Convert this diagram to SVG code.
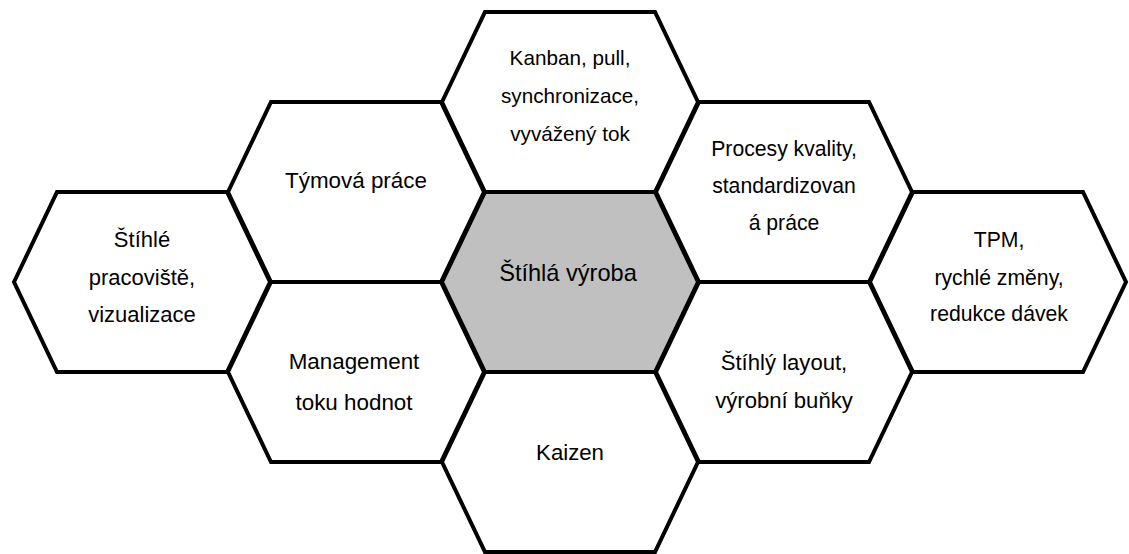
<svg xmlns="http://www.w3.org/2000/svg" xmlns:xlink="http://www.w3.org/1999/xlink" width="1129" height="554" viewBox="0 0 1129 554">
  <style>
    .hex { fill: #ffffff; stroke: #000000; stroke-width: 4; stroke-linejoin: miter; }
    .hex.core { fill: #c0c0c0; }
    text { font-family: "Liberation Sans", Arial, sans-serif; fill: #000000; text-anchor: middle; }
  </style>
  <defs>
    <path id="hexShape" d="M-128,0 L-85,-90 L85,-90 L128,0 L85,90 L-85,90 Z"/>
  </defs>
  <rect width="1129" height="554" fill="#ffffff"/>
  <g id="connectors"/>
  <g id="node-kanban">
    <use href="#hexShape" xlink:href="#hexShape" class="hex" x="570" y="102"/>
    <text x="570" y="65" font-size="20.7">Kanban, pull,</text>
    <text x="570" y="103" font-size="20.7">synchronizace,</text>
    <text x="570" y="141" font-size="20.7">vyvážený tok</text>
  </g>
  <g id="node-tymova">
    <use href="#hexShape" xlink:href="#hexShape" class="hex" x="356" y="192"/>
    <text x="356" y="188" font-size="22.4">Týmová práce</text>
  </g>
  <g id="node-procesy">
    <use href="#hexShape" xlink:href="#hexShape" class="hex" x="784" y="192"/>
    <text x="784" y="156" font-size="21.2">Procesy kvality,</text>
    <text x="784" y="193" font-size="21.2">standardizovan</text>
    <text x="784" y="230" font-size="21.2">á práce</text>
  </g>
  <g id="node-pracoviste">
    <use href="#hexShape" xlink:href="#hexShape" class="hex" x="142" y="282"/>
    <text x="142" y="247" font-size="22">Štíhlé</text>
    <text x="142" y="284.5" font-size="22">pracoviště,</text>
    <text x="142" y="322" font-size="22">vizualizace</text>
  </g>
  <g id="node-tpm">
    <use href="#hexShape" xlink:href="#hexShape" class="hex" x="998" y="282"/>
    <text x="999" y="247" font-size="21.2">TPM,</text>
    <text x="999" y="285" font-size="21.2">rychlé změny,</text>
    <text x="999" y="321" font-size="21.2">redukce dávek</text>
  </g>
  <g id="node-management">
    <use href="#hexShape" xlink:href="#hexShape" class="hex" x="356" y="372"/>
    <text x="354" y="369" font-size="22.4">Management</text>
    <text x="354" y="410" font-size="22.4">toku hodnot</text>
  </g>
  <g id="node-layout">
    <use href="#hexShape" xlink:href="#hexShape" class="hex" x="784" y="372"/>
    <text x="784" y="370" font-size="22.1">Štíhlý layout,</text>
    <text x="784" y="408" font-size="22.1">výrobní buňky</text>
  </g>
  <g id="node-kaizen">
    <use href="#hexShape" xlink:href="#hexShape" class="hex" x="570" y="462"/>
    <text x="570" y="460" font-size="22.2">Kaizen</text>
  </g>
  <g id="node-center">
    <use href="#hexShape" xlink:href="#hexShape" class="hex core" x="570" y="282"/>
    <text x="568" y="281" font-size="23.6">Štíhlá výroba</text>
  </g>
</svg>
